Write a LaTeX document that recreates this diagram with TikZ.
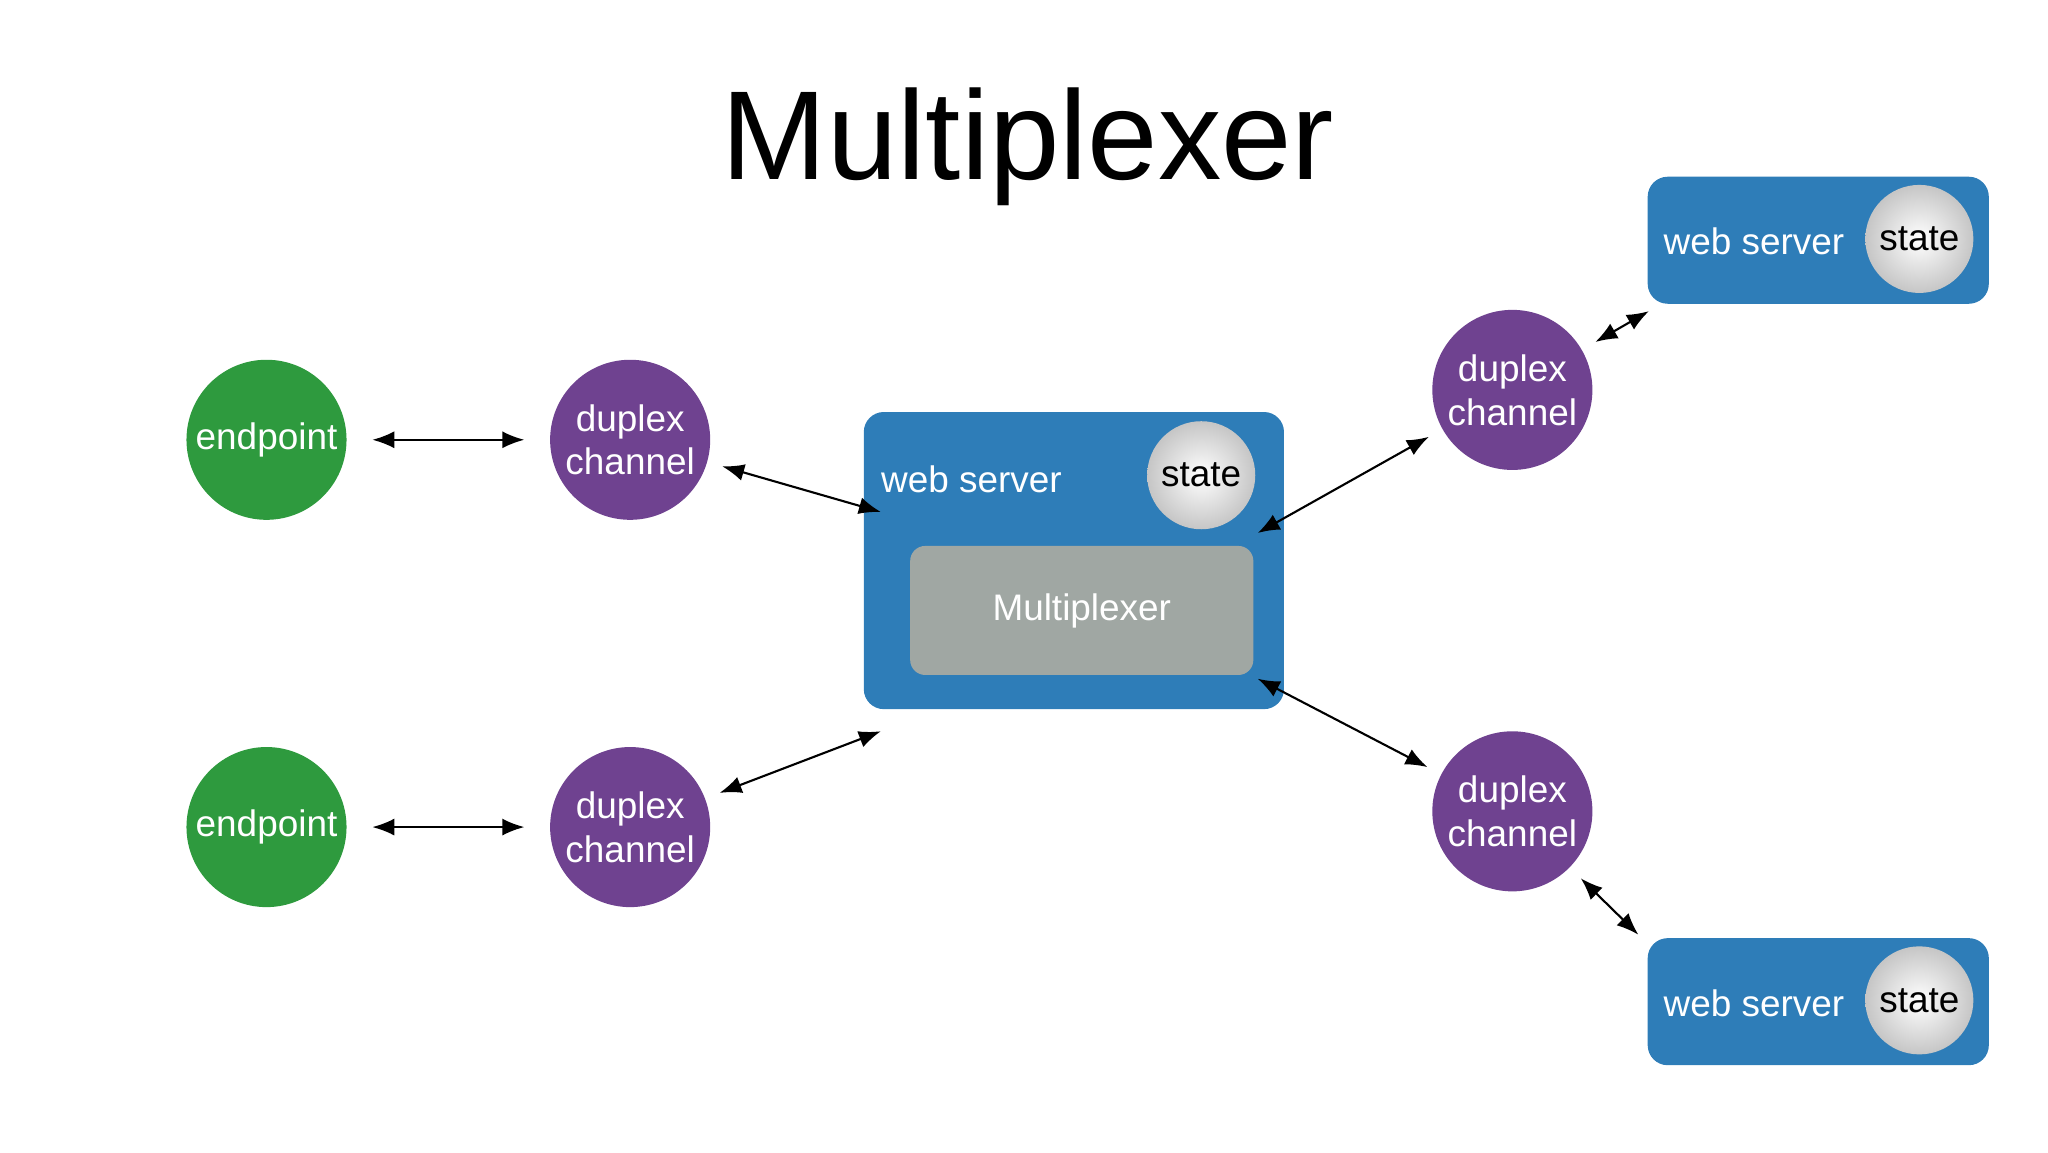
\documentclass[tikz,border=0pt]{standalone}
\usepackage{fontspec}
\setmainfont{Liberation Sans}
\usetikzlibrary{arrows.meta}
\definecolor{epgreen}{HTML}{2E9A3E}
\definecolor{chpurple}{HTML}{6F4290}
\definecolor{srvblue}{HTML}{2E7DB8}
\definecolor{mxgrey}{HTML}{A0A7A3}
\begin{document}
\begin{tikzpicture}[x=0.01313cm, y=-0.01313cm,
    endpoint/.style={circle,fill=epgreen,text=white,inner sep=0pt,minimum size=1.6cm,font=\fontsize{10.5}{12}\selectfont},
    channel/.style={circle,fill=chpurple,text=white,inner sep=0pt,minimum size=1.6cm,align=center,font=\fontsize{10.5}{12.5}\selectfont},
    server/.style={rectangle,rounded corners=2mm,fill=srvblue,inner sep=0pt},
    state/.style={circle,inner color=white,outer color=gray!45,inner sep=0pt,minimum size=1.08cm,font=\fontsize{10.5}{12}\selectfont},
    label/.style={text=white,font=\fontsize{10.5}{12}\selectfont},
    link/.style={{Latex[length=2.2mm,width=1.7mm]}-{Latex[length=2.2mm,width=1.7mm]},line width=0.6pt}
    ]
    \useasboundingbox (0,0) rectangle (1560,878);
    \node (title) at (783,112) {\fontsize{36}{40}\selectfont Multiplexer};

    \node (e1) at (203,335) [endpoint] {endpoint};
    \node (e2) at (203,630) [endpoint] {endpoint};
    \node (d1) at (480,335) [channel] {duplex\\channel};
    \node (d2) at (480,630) [channel] {duplex\\channel};
    \node (d3) at (1152,297) [channel] {duplex\\channel};
    \node (d4) at (1152,618) [channel] {duplex\\channel};

    \node (web) at (818,427) [server,minimum width=4.2cm,minimum height=2.97cm] {};
    \node (webl) at (740,365) [label] {web server};
    \node (webs) at (915,362) [state] {state};
    \node (mux) at (824,465) [rectangle,rounded corners=1.5mm,fill=mxgrey,minimum width=3.43cm,minimum height=1.29cm,label] {Multiplexer};

    \node (top) at (1385,183) [server,minimum width=3.41cm,minimum height=1.27cm] {};
    \node (topl) at (1336,184) [label] {web server};
    \node (tops) at (1462,182) [state] {state};
    \node (bot) at (1385,763) [server,minimum width=3.41cm,minimum height=1.27cm] {};
    \node (botl) at (1336,764) [label] {web server};
    \node (bots) at (1462,762) [state] {state};

    \coordinate (w1) at (671,390);
    \coordinate (w2) at (671,557);
    \coordinate (w3) at (958,406);
    \coordinate (w4) at (958,517);
    \coordinate (t1) at (1256,237);
    \coordinate (b1) at (1248,712);

    \draw [link,shorten <=2.5mm,shorten >=2.5mm] (e1) -- (d1);
    \draw [link,shorten <=2.5mm,shorten >=2.5mm] (e2) -- (d2);
    \draw [link,shorten <=1.5mm] (d1) -- (w1);
    \draw [link,shorten <=1.5mm] (d2) -- (w2);
    \draw [link,shorten <=1.5mm] (d3) -- (w3);
    \draw [link,shorten <=1.5mm] (d4) -- (w4);
    \draw [link,shorten <=1.5mm] (d3) -- (t1);
    \draw [link,shorten <=1.5mm] (d4) -- (b1);
\end{tikzpicture}
\end{document}
